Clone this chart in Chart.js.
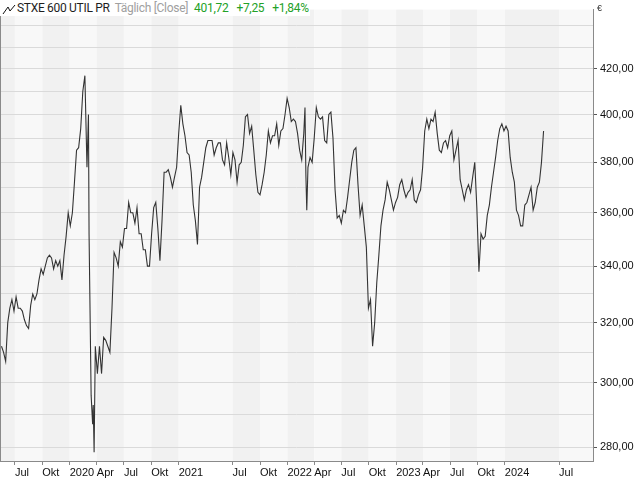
<!DOCTYPE html>
<html>
<head>
<meta charset="utf-8">
<title>STXE 600 UTIL PR</title>
<script src="https://cdn.jsdelivr.net/npm/chart.js@4.4.0/dist/chart.umd.min.js"></script>
<style>
  body { margin: 0; background: #fff; }
  #wrap { position: relative; width: 640px; height: 480px; }
  #legend {
    position: absolute; left: 0; top: 0; width: 310px; height: 16px; padding-left: 17px;
    box-sizing: border-box; background: #fff; font-family: Roboto, "Liberation Sans", Arial, sans-serif;
    font-size: 12px; line-height: 16px; white-space: nowrap; letter-spacing: -0.3px;
  }
  #legend svg { position: absolute; left: 2px; top: 3px; }
  .name { color: #1e1e1e; margin-right: 5px; }
  .mode { color: #a0a0a0; margin-right: 6px; }
  .quote { color: #23a127; margin-right: 8px; }
  #unit {
    position: absolute; left: 597px; top: 3px; font-family: "Liberation Sans", Arial, sans-serif;
    font-size: 9px; color: #333;
  }
</style>
</head>
<body>
<div id="wrap">
  <canvas id="chart" width="640" height="480"></canvas>
  <div id="legend"><svg width="14" height="12"><polyline points="1,11 6,4 8,8 13,2" fill="none" stroke="#111" stroke-width="1"/></svg><span class="name">STXE 600 UTIL PR</span><span class="mode">Täglich [Close]</span><span class="quote">401,72</span><span class="quote">+7,25</span><span class="quote">+1,84%</span></div>
  <div id="unit">€</div>
</div>
<script>
// weekly closes (a few extra days around the sharp moves)
const dates = [
  "2019-05-17","2019-05-24","2019-05-31","2019-06-07","2019-06-14","2019-06-21","2019-06-28",
  "2019-07-05","2019-07-12","2019-07-19","2019-07-26","2019-08-02","2019-08-09","2019-08-16",
  "2019-08-23","2019-08-30","2019-09-06","2019-09-13","2019-09-20","2019-09-27","2019-10-04",
  "2019-10-11","2019-10-18","2019-10-25","2019-11-01","2019-11-08","2019-11-15","2019-11-22",
  "2019-11-29","2019-12-06","2019-12-13","2019-12-20","2019-12-27",
  "2020-01-03","2020-01-10","2020-01-17","2020-01-24","2020-01-31","2020-02-07","2020-02-14",
  "2020-02-21","2020-02-28","2020-03-04","2020-03-06","2020-03-13","2020-03-18","2020-03-20",
  "2020-03-23","2020-03-27","2020-04-03","2020-04-10","2020-04-17","2020-04-24","2020-05-01",
  "2020-05-08","2020-05-15","2020-05-22","2020-05-29","2020-06-05","2020-06-12","2020-06-19",
  "2020-06-26","2020-07-03","2020-07-10","2020-07-17","2020-07-24","2020-07-31","2020-08-07",
  "2020-08-14","2020-08-21","2020-08-28","2020-09-04","2020-09-11","2020-09-18","2020-09-25",
  "2020-10-02","2020-10-09","2020-10-16","2020-10-23","2020-10-30","2020-11-06","2020-11-13",
  "2020-11-20","2020-11-27","2020-12-04","2020-12-11","2020-12-18","2020-12-25",
  "2021-01-01","2021-01-08","2021-01-15","2021-01-22","2021-01-29","2021-02-05","2021-02-12",
  "2021-02-19","2021-02-26","2021-03-05","2021-03-12","2021-03-19","2021-03-26","2021-04-02",
  "2021-04-09","2021-04-16","2021-04-23","2021-04-30","2021-05-07","2021-05-14","2021-05-21",
  "2021-05-28","2021-06-04","2021-06-11","2021-06-18","2021-06-25","2021-07-02","2021-07-09",
  "2021-07-16","2021-07-23","2021-07-30","2021-08-06","2021-08-13","2021-08-20","2021-08-27",
  "2021-09-03","2021-09-10","2021-09-17","2021-09-24","2021-10-01","2021-10-08","2021-10-15",
  "2021-10-22","2021-10-29","2021-11-05","2021-11-12","2021-11-19","2021-11-26","2021-12-03",
  "2021-12-10","2021-12-17","2021-12-24","2021-12-31",
  "2022-01-07","2022-01-14","2022-01-21","2022-01-28","2022-02-04","2022-02-11","2022-02-18",
  "2022-02-25","2022-03-01","2022-03-04","2022-03-07","2022-03-11","2022-03-18","2022-03-25",
  "2022-04-01","2022-04-08","2022-04-15","2022-04-22","2022-04-29","2022-05-06","2022-05-13",
  "2022-05-20","2022-05-27","2022-06-03","2022-06-10","2022-06-17","2022-06-24","2022-07-01",
  "2022-07-08","2022-07-15","2022-07-22","2022-07-29","2022-08-05","2022-08-12","2022-08-19",
  "2022-08-26","2022-09-02","2022-09-09","2022-09-16","2022-09-23","2022-09-30","2022-10-07",
  "2022-10-14","2022-10-21","2022-10-28","2022-11-04","2022-11-11","2022-11-18","2022-11-25",
  "2022-12-02","2022-12-09","2022-12-16","2022-12-23","2022-12-30",
  "2023-01-06","2023-01-13","2023-01-20","2023-01-27","2023-02-03","2023-02-10","2023-02-17",
  "2023-02-24","2023-03-03","2023-03-10","2023-03-17","2023-03-24","2023-03-31","2023-04-07",
  "2023-04-14","2023-04-21","2023-04-28","2023-05-05","2023-05-12","2023-05-19","2023-05-26",
  "2023-06-02","2023-06-09","2023-06-16","2023-06-23","2023-06-30","2023-07-07","2023-07-14",
  "2023-07-21","2023-07-28","2023-08-04","2023-08-11","2023-08-18","2023-08-25","2023-09-01",
  "2023-09-08","2023-09-15","2023-09-22","2023-09-29","2023-10-06","2023-10-13","2023-10-20",
  "2023-10-27","2023-11-03","2023-11-10","2023-11-17","2023-11-24","2023-12-01","2023-12-08",
  "2023-12-15","2023-12-22","2023-12-29",
  "2024-01-05","2024-01-12","2024-01-19","2024-01-26","2024-02-02","2024-02-09","2024-02-16",
  "2024-02-23","2024-03-01","2024-03-08","2024-03-15","2024-03-22","2024-03-29","2024-04-05",
  "2024-04-12","2024-04-19","2024-04-26","2024-05-03","2024-05-10"
];

const closes = [
  312, 310, 307, 320, 325, 328, 324,
  329, 325, 325, 324, 321, 319, 318,
  326, 330, 328, 330, 335, 339, 337,
  340, 343, 344, 343, 339, 342, 340,
  342, 335, 344, 351, 360,
  355, 360, 372, 385, 386, 394, 410,
  417, 378, 400, 352, 296, 287, 293,
  278.5, 312, 303, 312, 303, 315, 314,
  312, 310, 325, 345, 343, 340, 349,
  347, 354, 354, 364, 360, 360, 356,
  362, 352, 352, 346, 346, 340, 340,
  352, 362, 364, 354, 342, 357, 376,
  376, 377, 374, 370, 374, 378,
  392, 404, 396, 391, 384, 383, 376,
  363, 357, 348, 370, 374, 380, 386,
  389, 389, 389, 383, 386, 388, 388,
  381, 379, 388, 382, 375, 384, 381,
  372, 379, 380, 387, 399, 400, 392,
  395, 385, 375, 368, 367, 371, 376,
  383, 393, 388, 391, 391, 396, 387,
  393, 394, 400, 407,
  403, 397, 398, 397, 392, 385, 381,
  392, 403, 375, 361, 378, 382, 380,
  390, 403, 399, 398, 399, 389, 388,
  400, 401, 390, 369, 358, 359, 356,
  361, 360, 366, 373, 380, 385, 386,
  371, 359, 363, 355, 347, 325, 328,
  312, 320, 334, 344, 355, 361, 365,
  372, 369, 365, 361, 364,
  366, 371, 373, 369, 366, 368, 369,
  373, 365, 364, 367, 369, 378, 393,
  398, 394, 398, 397, 401, 392, 385,
  384, 388, 389, 386, 391, 393, 381,
  385, 389, 373, 369, 365, 369, 371,
  368, 374, 380, 362, 338, 352, 350,
  351, 359, 363, 370, 376, 382, 389,
  394, 396, 393,
  395, 393, 382, 376, 372, 361, 359,
  355, 355, 363, 364, 367, 370, 361,
  364, 370, 372, 380, 393
];

const tickDates = [
  "2019-07-01","2019-10-01","2020-01-01","2020-04-01","2020-07-01","2020-10-01","2021-01-01",
  "2021-07-01","2021-10-01","2022-01-01","2022-04-01","2022-07-01","2022-10-01","2023-01-01",
  "2023-04-01","2023-07-01","2023-10-01","2024-01-01","2024-07-01"
];
const tickLabels = [
  "Jul","Okt","2020","Apr","Jul","Okt","2021",
  "Jul","Okt","2022","Apr","Jul","Okt","2023",
  "Apr","Jul","Okt","2024","Jul"
];

const yGridValues = [280, 290, 300, 310, 320, 330, 340, 350, 360, 370, 380, 390, 400, 410, 420, 430, 440];
const yLabelValues = [280, 300, 320, 340, 360, 380, 400, 420];

function toTime(s) {
  const [y, m, d] = s.split("-").map(Number);
  return Date.UTC(y, m - 1, d);
}

function formatPrice(v) {
  return v.toLocaleString("de-DE", { minimumFractionDigits: 2, maximumFractionDigits: 2 });
}

const xMin = toTime("2019-05-12");
const xMax = toTime("2024-10-23");

// alternating background bands between the date ticks
const bandsPlugin = {
  id: "bands",
  beforeDraw(chart) {
    const { ctx, chartArea, scales } = chart;
    const edges = [xMin].concat(tickDates.map(toTime), [xMax]);
    ctx.save();
    ctx.fillStyle = "#ffffff";
    ctx.fillRect(0, 0, chart.width, chart.height);
    for (let i = 0; i < edges.length - 1; i++) {
      const x0 = scales.x.getPixelForValue(edges[i]);
      const x1 = scales.x.getPixelForValue(edges[i + 1]);
      ctx.fillStyle = i % 2 === 0 ? "#f1f1f1" : "#f8f8f8";
      ctx.fillRect(x0, chartArea.top, x1 - x0, chartArea.bottom - chartArea.top);
    }
    ctx.restore();
  },
  afterDraw(chart) {
    const { ctx, chartArea } = chart;
    ctx.save();
    ctx.strokeStyle = "#8a8a8a";
    ctx.lineWidth = 1;
    ctx.beginPath();
    ctx.moveTo(0.5, chartArea.top);
    ctx.lineTo(0.5, chartArea.bottom);
    ctx.stroke();
    ctx.restore();
  }
};

const points = dates.map((d, i) => ({ x: toTime(d), y: closes[i] }));

new Chart(document.getElementById("chart"), {
  type: "line",
  data: {
    datasets: [{
      data: points,
      borderColor: "#333333",
      borderWidth: 1.1,
      pointRadius: 0,
      tension: 0,
      fill: false
    }]
  },
  options: {
    responsive: false,
    animation: false,
    devicePixelRatio: 1,
    layout: { padding: 0 },
    plugins: { legend: { display: false }, tooltip: { enabled: false } },
    scales: {
      x: {
        type: "linear",
        min: xMin,
        max: xMax,
        afterBuildTicks(scale) {
          scale.ticks = tickDates.map(d => ({ value: toTime(d) }));
        },
        afterFit(scale) { scale.height = 19; },
        grid: { drawOnChartArea: false, drawTicks: true, tickLength: 4, tickColor: "#8a8a8a" },
        border: { display: true, color: "#8a8a8a" },
        ticks: {
          autoSkip: false,
          maxRotation: 0,
          minRotation: 0,
          align: "start",
          padding: 1,
          color: "#111",
          font: { family: "'Liberation Sans', Arial, sans-serif", size: 11 },
          callback: (v, i) => tickLabels[i]
        }
      },
      y: {
        type: "logarithmic",
        position: "right",
        min: 275.9,
        max: 447.6,
        afterBuildTicks(scale) {
          scale.ticks = yGridValues.map(v => ({ value: v }));
        },
        afterFit(scale) { scale.width = 47; },
        grid: {
          color: "#dadada",
          drawTicks: true,
          tickLength: 4,
          tickColor: ctx => yLabelValues.includes(ctx.tick && ctx.tick.value) ? "#555" : "rgba(0,0,0,0)"
        },
        border: { display: true, color: "#8a8a8a" },
        ticks: {
          padding: 3,
          color: "#111",
          font: { family: "'Liberation Sans', Arial, sans-serif", size: 11 },
          callback: v => yLabelValues.includes(v) ? formatPrice(v) : ""
        }
      }
    }
  },
  plugins: [bandsPlugin]
});
</script>
</body>
</html>
